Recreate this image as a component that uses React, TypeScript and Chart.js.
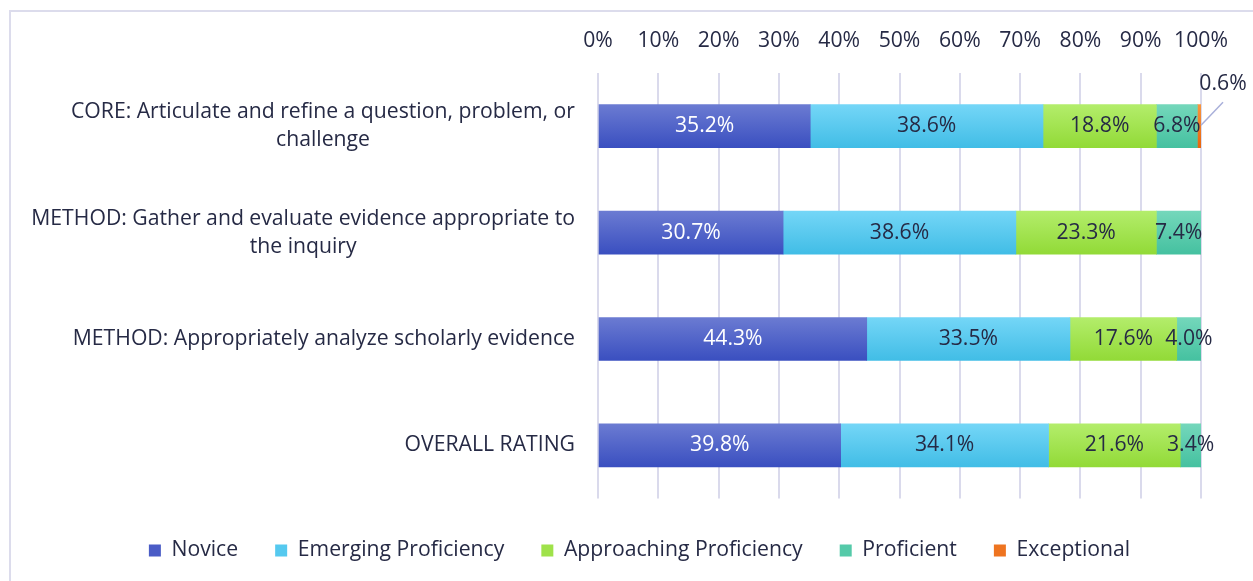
import React, { useEffect, useRef } from "react";
import { Chart, registerables } from "chart.js";

Chart.register(...registerables);

// ---- data ----
const categories: string[][] = [
  ["CORE: Articulate and refine a question, problem, or", "challenge"],
  ["METHOD: Gather and evaluate evidence appropriate to", "the inquiry"],
  ["METHOD: Appropriately analyze scholarly evidence"],
  ["OVERALL RATING"],
];
const seriesNames = ["Novice", "Emerging Proficiency", "Approaching Proficiency", "Proficient", "Exceptional"];
const novice = [35.2, 30.7, 44.3, 39.8];
const emerging = [38.6, 38.6, 33.5, 34.1];
const approaching = [18.8, 23.3, 17.6, 21.6];
const proficient = [6.8, 7.4, 4.0, 3.4];
const exceptional = [0.6, 0, 0, 0];
const xTickStep = 10;

// ---- styles ----
const FONT = "'Open Sans', Lato, sans-serif";
const FS = 21.2;
const TEXT = "#262a45";
const GRID = "#dadaec";
const topColors = ["#6b7bd2", "#74d6f7", "#b3ed6b", "#74d7bb", "#f7963f"];
const bottomColors = ["#3a4fc0", "#41bde6", "#92da37", "#45c1a0", "#e8650c"];
const legendColors = ["#4a5cc6", "#55c9ef", "#9fe24a", "#55caa9", "#ee7420"];
const labelColors = ["#ffffff", TEXT, TEXT, TEXT, TEXT];

const rawSeries = [novice, emerging, approaching, proficient, exceptional];

export default function App() {
  const ref = useRef<HTMLCanvasElement | null>(null);

  useEffect(() => {
    const canvas = ref.current;
    if (!canvas) return;

    const totals = categories.map((_, i) => rawSeries.reduce((s, arr) => s + arr[i], 0));
    const BAR = 43;

    const datasets = rawSeries.map((arr, di) => ({
      label: seriesNames[di],
      data: arr.map((v, i) => (v / totals[i]) * 100),
      barThickness: BAR,
      borderWidth: 0,
      backgroundColor: (c: any) => {
        const chart = c.chart;
        const ys = chart.scales && chart.scales.y;
        if (!ys || c.dataIndex == null || !chart.chartArea) return legendColors[di];
        const yc = ys.getPixelForValue(c.dataIndex);
        if (!isFinite(yc)) return legendColors[di];
        const g = chart.ctx.createLinearGradient(0, yc - BAR / 2, 0, yc + BAR / 2);
        g.addColorStop(0, topColors[di]);
        g.addColorStop(1, bottomColors[di]);
        return g;
      },
    }));

    const labelPlugin = {
      id: "valueLabels",
      afterDatasetsDraw(chart: any) {
        const ctx = chart.ctx;
        ctx.save();
        ctx.font = `${FS}px ${FONT}`;
        ctx.textBaseline = "middle";
        ctx.textAlign = "center";
        chart.data.datasets.forEach((_: any, di: number) => {
          const meta = chart.getDatasetMeta(di);
          meta.data.forEach((bar: any, i: number) => {
            const raw = rawSeries[di][i];
            if (!raw) return;
            const p = bar.getProps(["x", "y", "base"], true);
            const w = p.x - p.base;
            const text = raw.toFixed(1) + "%";
            if (w < 12) {
              ctx.strokeStyle = "#a9b0da";
              ctx.lineWidth = 1.5;
              ctx.beginPath();
              ctx.moveTo(p.x, p.y - 1);
              ctx.lineTo(p.x + 22, p.y - 24);
              ctx.stroke();
              ctx.fillStyle = TEXT;
              ctx.fillText(text, p.x + 22, p.y - 42);
            } else {
              ctx.fillStyle = labelColors[di];
              ctx.fillText(text, (p.x + p.base) / 2, p.y);
            }
          });
        });
        ctx.restore();
      },
    };

    const catPlugin = {
      id: "catLabels",
      afterDraw(chart: any) {
        const ctx = chart.ctx;
        const ys = chart.scales.y;
        const right = chart.chartArea.left - 23;
        const LH = 28;
        ctx.save();
        ctx.font = `${FS}px ${FONT}`;
        ctx.fillStyle = TEXT;
        ctx.textBaseline = "middle";
        ctx.textAlign = "center";
        categories.forEach((lines, i) => {
          const yc = ys.getPixelForValue(i);
          const maxW = Math.max(...lines.map((l) => ctx.measureText(l).width));
          const cx = right - maxW / 2;
          lines.forEach((l, j) => {
            ctx.fillText(l, cx, yc + (j - (lines.length - 1) / 2) * LH);
          });
        });
        ctx.restore();
      },
    };

    const chart = new Chart(canvas, {
      type: "bar",
      data: {
        labels: categories.map((c) => c.join(" ")),
        datasets: datasets as any,
      },
      options: {
        indexAxis: "y",
        responsive: false,
        animation: false,
        layout: { padding: { left: 26, right: 0, top: 0, bottom: 10 } },
        scales: {
          x: {
            position: "top",
            stacked: true,
            min: 0,
            max: 100,
            ticks: {
              stepSize: xTickStep,
              padding: 19,
              color: TEXT,
              maxRotation: 0,
              minRotation: 0,
              autoSkip: false,
              font: { family: FONT, size: FS },
              callback: (v: any) => v + "%",
            },
            grid: { color: GRID, lineWidth: 2, drawTicks: false },
            border: { display: false },
            afterFit: (s: any) => {
              s.height = 73;
              s.paddingLeft = 0;
              s.paddingRight = 0;
            },
          },
          y: {
            type: "category",
            stacked: true,
            ticks: { display: false },
            grid: { display: false },
            border: { display: false },
            afterFit: (s: any) => {
              s.width = 572;
            },
          },
          yr: {
            type: "category",
            position: "right",
            ticks: { display: false },
            grid: { display: false },
            border: { display: false },
            afterFit: (s: any) => {
              s.width = 52;
            },
          },
        } as any,
        plugins: {
          tooltip: { enabled: false },
          legend: {
            position: "bottom",
            title: { display: true, text: "", font: { size: 1 }, padding: { top: 0, bottom: 3 } },
            labels: {
              color: TEXT,
              font: { family: FONT, size: FS },
              boxWidth: 12,
              boxHeight: 12,
              padding: 37,
              generateLabels: () =>
                seriesNames.map((n, i) => ({
                  text: n,
                  fillStyle: legendColors[i],
                  strokeStyle: legendColors[i],
                  lineWidth: 0,
                  hidden: false,
                  datasetIndex: i,
                  fontColor: TEXT,
                })),
            },
          },
        },
      },
      plugins: [labelPlugin, catPlugin],
    });

    return () => chart.destroy();
  }, []);

  return (
    <div style={{ position: "fixed", inset: 0, background: "#ffffff", overflow: "hidden" }}>
      <div
        style={{
          position: "absolute",
          left: 9,
          top: 10,
          right: -20,
          bottom: -20,
          borderLeft: "2px solid #dcdcec",
          borderTop: "2px solid #dcdcec",
        }}
      />
      <canvas
        ref={ref}
        width={1253}
        height={581}
        style={{ position: "absolute", left: 0, top: 0, width: 1253, height: 581 }}
      />
    </div>
  );
}
